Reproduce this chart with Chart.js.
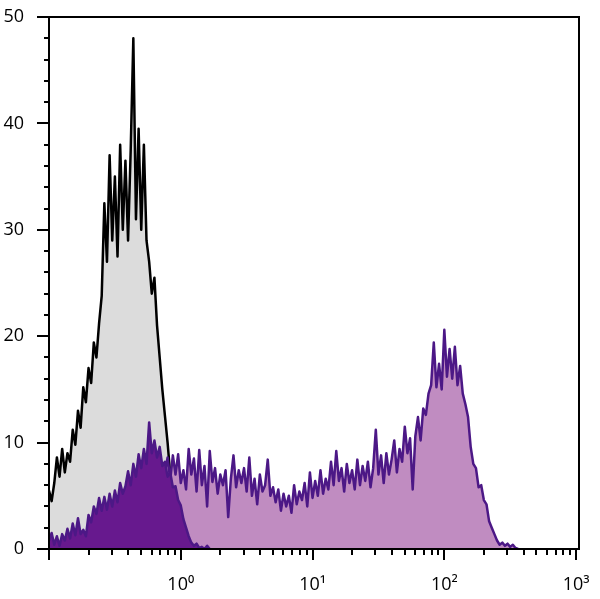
<!DOCTYPE html>
<html>
<head>
<meta charset="utf-8">
<script src="https://cdn.jsdelivr.net/npm/chart.js@4.4.1/dist/chart.umd.min.js"></script>
<style>
  html, body { margin: 0; padding: 0; background: #fff; }
  #wrap { width: 600px; height: 599px; position: relative; }
</style>
</head>
<body>
<div id="wrap"><canvas id="histo"></canvas></div>
<script>
// histogram bins: evenly spaced in log10, starting at 10^-1
const binStartLog = -1.0;
const binStepLog = 0.02;

// isotype control (grey)
const isoStartBin = 0;
const isoCounts = [
  5.5, 4.5, 6.2, 8.6, 6.8, 9.4, 7.2, 9.0, 8.2, 11.2,
  9.8, 13.0, 11.4, 15.2, 13.8, 17.0, 15.6, 19.4, 18.0, 21.2,
  23.8, 32.5, 27.0, 37.0, 29.0, 35.0, 27.5, 38.0, 30.0, 36.5,
  29.0, 37.5, 48.0, 31.0, 39.5, 30.0, 38.0, 29.0, 27.0, 24.0,
  25.5, 21.0, 18.0, 15.0, 12.5, 10.0, 7.0, 4.0, 1.5, 0
];

// negative population (dark purple)
const negStartBin = 0;
const negCounts = [
  0.8, 1.5, 0.4, 1.2, 0.3, 1.4, 0.8, 1.9, 1.0, 2.4,
  1.3, 2.9, 1.4, 1.8, 1.2, 3.2, 2.5, 4.0, 3.3, 4.8,
  3.6, 4.9, 3.7, 5.2, 4.0, 5.5, 4.4, 6.2, 5.2, 5.9,
  7.3, 6.0, 8.0, 6.8, 8.9, 7.6, 9.4, 8.0, 11.9, 9.0,
  10.2, 8.6, 9.6, 7.8, 8.2, 6.8, 7.2, 5.8, 5.9, 4.6,
  4.1, 2.8, 2.0, 1.2, 0.6, 0.3, 0.5, 0.1, 0.2, 0,
  0.3, 0
];

// stained sample (light purple)
const stainStartBin = 25;
const stainCounts = [
  1.0, 2.0, 1.5, 2.8, 2.2, 3.5, 3.0, 4.2, 3.8, 5.0,
  4.6, 5.6, 5.2, 6.0, 5.8, 6.5, 6.2, 7.0, 6.4, 7.2,
  8.6, 6.5, 8.8, 7.0, 8.9, 6.2, 7.4, 5.6, 9.4, 7.0,
  8.5, 5.4, 9.3, 6.0, 7.8, 4.0, 9.2, 6.3, 7.6, 5.2,
  7.0, 6.0, 7.4, 3.0, 6.6, 8.8, 5.8, 7.4, 6.2, 7.6,
  5.4, 8.6, 5.0, 6.6, 4.2, 7.0, 5.4, 6.0, 8.4, 5.0,
  5.8, 4.4, 5.6, 3.6, 5.2, 4.0, 5.0, 3.4, 6.0, 4.2,
  5.4, 4.6, 6.2, 4.0, 7.2, 4.8, 6.4, 5.0, 7.4, 5.2,
  6.6, 5.6, 8.2, 6.0, 9.2, 6.4, 7.6, 5.4, 8.0, 6.2,
  7.4, 5.6, 8.4, 6.0, 7.8, 6.4, 8.2, 5.8, 7.6, 11.2,
  7.0, 8.8, 6.2, 9.0, 7.0, 8.4, 10.2, 7.2, 9.4, 8.2,
  11.5, 9.0, 10.4, 5.6, 10.6, 12.4, 10.2, 13.2, 12.6, 14.6,
  15.4, 19.4, 15.2, 17.4, 15.0, 20.6, 16.2, 18.8, 16.0, 19.0,
  15.4, 17.2, 14.6, 13.6, 12.4, 9.6, 8.0, 7.6, 5.8, 6.0,
  4.6, 4.2, 2.6, 2.0, 1.4, 0.8, 0.4, 0.6, 0.3, 0.5,
  0.2, 0.4, 0.1, 0
];

// axes
const xMin = 0.1;
const xMax = 1052;
const xMajorValues = [1, 10, 100, 1000];
const xMajorLabels = ['10\u2070', '10\u00B9', '10\u00B2', '10\u00B3'];
const xMinorMultipliers = [2, 3, 4, 5, 6, 7, 8, 9];
const yMin = 0;
const yMax = 50;
const yLabelStep = 10;
const yMinorStep = 2;

const isoFill = 'rgb(220,220,220)';
const isoLine = '#000000';
const stainFill = 'rgb(192,140,193)';
const stainLine = 'rgb(76,24,134)';
const negFill = 'rgb(103,25,142)';
const negLine = 'rgb(76,24,134)';

function toPoints(startBin, counts) {
  return counts.map((c, i) => ({
    x: Math.pow(10, binStartLog + (startBin + i) * binStepLog),
    y: c
  }));
}

// frame + major/minor tick marks, positioned by the chart's scales
const frameTicks = {
  id: 'frameTicks',
  afterDraw(chart) {
    const { ctx, chartArea: a, scales } = chart;
    const xs = scales.x, ys = scales.y;
    ctx.save();
    ctx.strokeStyle = '#000';
    ctx.lineWidth = 2;
    ctx.lineCap = 'butt';
    ctx.strokeRect(a.left, a.top, a.right - a.left, a.bottom - a.top);
    ctx.beginPath();
    [0.1].concat(xMajorValues).forEach(dec => {
      if (dec >= xMin && dec <= xMax) {
        const px = Math.round(xs.getPixelForValue(dec));
        ctx.moveTo(px, a.bottom);
        ctx.lineTo(px, a.bottom + 11);
      }
      xMinorMultipliers.forEach(m => {
        const v = dec * m;
        if (v > xMin && v < xMax) {
          const px = Math.round(xs.getPixelForValue(v));
          ctx.moveTo(px, a.bottom);
          ctx.lineTo(px, a.bottom + 6);
        }
      });
    });
    for (let v = yMin; v <= yMax; v += yMinorStep) {
      const py = Math.round(ys.getPixelForValue(v));
      const len = v % yLabelStep === 0 ? 12 : 5;
      ctx.moveTo(a.left, py);
      ctx.lineTo(a.left - len, py);
    }
    ctx.stroke();
    ctx.restore();
  }
};

const tickFont = { family: '"Open Sans", "DejaVu Sans", sans-serif', size: 18 };

function noScalePadding(scale) {
  scale.paddingTop = 0;
  scale.paddingBottom = 0;
  scale.paddingLeft = 0;
  scale.paddingRight = 0;
}

new Chart(document.getElementById('histo'), {
  type: 'line',
  data: {
    datasets: [
      {
        label: 'negative',
        data: toPoints(negStartBin, negCounts),
        borderColor: negLine,
        backgroundColor: negFill,
        fill: 'origin',
        order: 1
      },
      {
        label: 'stained',
        data: toPoints(stainStartBin, stainCounts),
        borderColor: stainLine,
        backgroundColor: stainFill,
        fill: 'origin',
        order: 2
      },
      {
        label: 'isotype',
        data: toPoints(isoStartBin, isoCounts),
        borderColor: isoLine,
        backgroundColor: isoFill,
        fill: 'origin',
        order: 3
      }
    ]
  },
  options: {
    responsive: true,
    maintainAspectRatio: false,
    devicePixelRatio: 1,
    animation: false,
    layout: { padding: { top: 17, right: 21, left: 0, bottom: 0 } },
    elements: {
      line: { borderWidth: 2.5, tension: 0, borderJoinStyle: 'round' },
      point: { radius: 0 }
    },
    plugins: {
      legend: { display: false },
      tooltip: { enabled: false }
    },
    scales: {
      x: {
        type: 'logarithmic',
        min: xMin,
        max: xMax,
        grid: { display: false },
        border: { display: false },
        afterBuildTicks: scale => {
          scale.ticks = xMajorValues.map(v => ({ value: v }));
        },
        afterFit: scale => { scale.height = 50; noScalePadding(scale); },
        ticks: {
          autoSkip: false,
          maxRotation: 0,
          padding: 17,
          color: '#000',
          font: tickFont,
          callback: value => {
            const idx = xMajorValues.indexOf(value);
            return idx >= 0 ? xMajorLabels[idx] : '';
          }
        }
      },
      y: {
        type: 'linear',
        min: yMin,
        max: yMax,
        grid: { display: false },
        border: { display: false },
        afterFit: scale => { scale.width = 49; noScalePadding(scale); },
        ticks: {
          stepSize: yLabelStep,
          padding: 17,
          color: '#000',
          font: tickFont
        }
      }
    }
  },
  plugins: [frameTicks]
});
</script>
</body>
</html>
